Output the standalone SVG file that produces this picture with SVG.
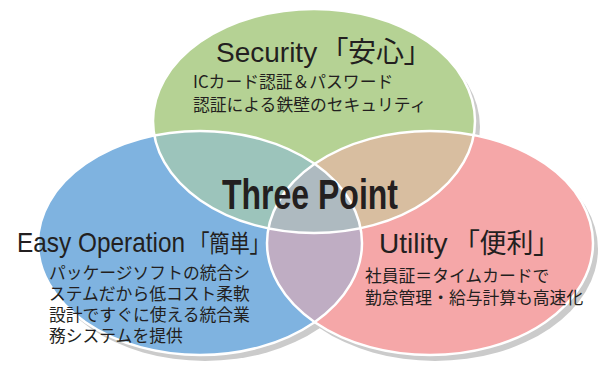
<svg xmlns="http://www.w3.org/2000/svg" width="603" height="367" viewBox="0 0 603 367">
<style>
.shadow{fill:#cbcbcb}
.edge{fill:none;stroke:#ffffff;stroke-width:2.5}
.title{font-family:"Liberation Sans",Arial,sans-serif;font-size:28px;fill:#231f20}
.cjk{font-family:"Noto Sans CJK JP",sans-serif;fill:#231f20;font-feature-settings:"palt" 1}
.sub{font-family:"Noto Sans CJK JP",sans-serif;font-size:16.8px;fill:#231f20}
.big{font-family:"Liberation Sans",Arial,sans-serif;font-weight:bold;font-size:42px;fill:#231f20}
</style>
<defs>
<clipPath id="cG"><ellipse cx="314" cy="121" rx="161" ry="112"/></clipPath>
<clipPath id="cB"><ellipse cx="200" cy="243" rx="162" ry="112"/></clipPath>
</defs>
<rect width="603" height="367" fill="#ffffff"/>
<g id="shadows">
<ellipse class="shadow" cx="319" cy="127" rx="161" ry="112"/>
<ellipse class="shadow" cx="205" cy="249" rx="162" ry="112"/>
<ellipse class="shadow" cx="435" cy="249" rx="163" ry="112"/>
</g>
<g id="fills">
<ellipse cx="314" cy="121" rx="161" ry="112" fill="#b5d294"/>
<ellipse cx="200" cy="243" rx="162" ry="112" fill="#7fb3e0"/>
<ellipse cx="430" cy="243" rx="163" ry="112" fill="#f5a7a8"/>
<g clip-path="url(#cG)"><ellipse cx="200" cy="243" rx="162" ry="112" fill="#9cc4bb"/></g>
<g clip-path="url(#cG)"><ellipse cx="430" cy="243" rx="163" ry="112" fill="#d8bea0"/></g>
<g clip-path="url(#cB)"><ellipse cx="430" cy="243" rx="163" ry="112" fill="#bfadc3"/></g>
<g clip-path="url(#cG)"><g clip-path="url(#cB)"><ellipse cx="430" cy="243" rx="163" ry="112" fill="#aebac0"/></g></g>
</g>
<g id="edges">
<ellipse class="edge" cx="314" cy="121" rx="161" ry="112"/>
<ellipse class="edge" cx="200" cy="243" rx="162" ry="112"/>
<ellipse class="edge" cx="430" cy="243" rx="163" ry="112"/>
</g>
<g id="connectors"/>
<g id="security">
<text class="title" x="216" y="62" font-size="29">Security</text>
<text class="cjk" x="334" y="62" font-size="28">「安心」</text>
<text class="sub" x="193" y="88">ICカード認証＆パスワード</text>
<text class="sub" x="193" y="111">認証による鉄壁のセキュリティ</text>
</g>
<g id="easy-operation">
<text class="title" x="17" y="252" textLength="168" lengthAdjust="spacingAndGlyphs">Easy Operation</text>
<text class="cjk" x="199" y="252" font-size="24" textLength="61" lengthAdjust="spacingAndGlyphs">「簡単」</text>
<text class="sub" x="49" y="279">パッケージソフトの統合シ</text>
<text class="sub" x="49" y="300">ステムだから低コスト柔軟</text>
<text class="sub" x="49" y="321">設計ですぐに使える統合業</text>
<text class="sub" x="49" y="342">務システムを提供</text>
</g>
<g id="utility">
<text class="title" x="379" y="253">Utility</text>
<text class="cjk" x="466" y="253" font-size="27">「便利」</text>
<text class="sub" x="365" y="282">社員証＝タイムカードで</text>
<text class="sub" x="365" y="304">勤怠管理・給与計算も高速化</text>
</g>
<g id="center">
<text class="big" x="222" y="209" textLength="176" lengthAdjust="spacingAndGlyphs">Three Point</text>
</g>
</svg>
